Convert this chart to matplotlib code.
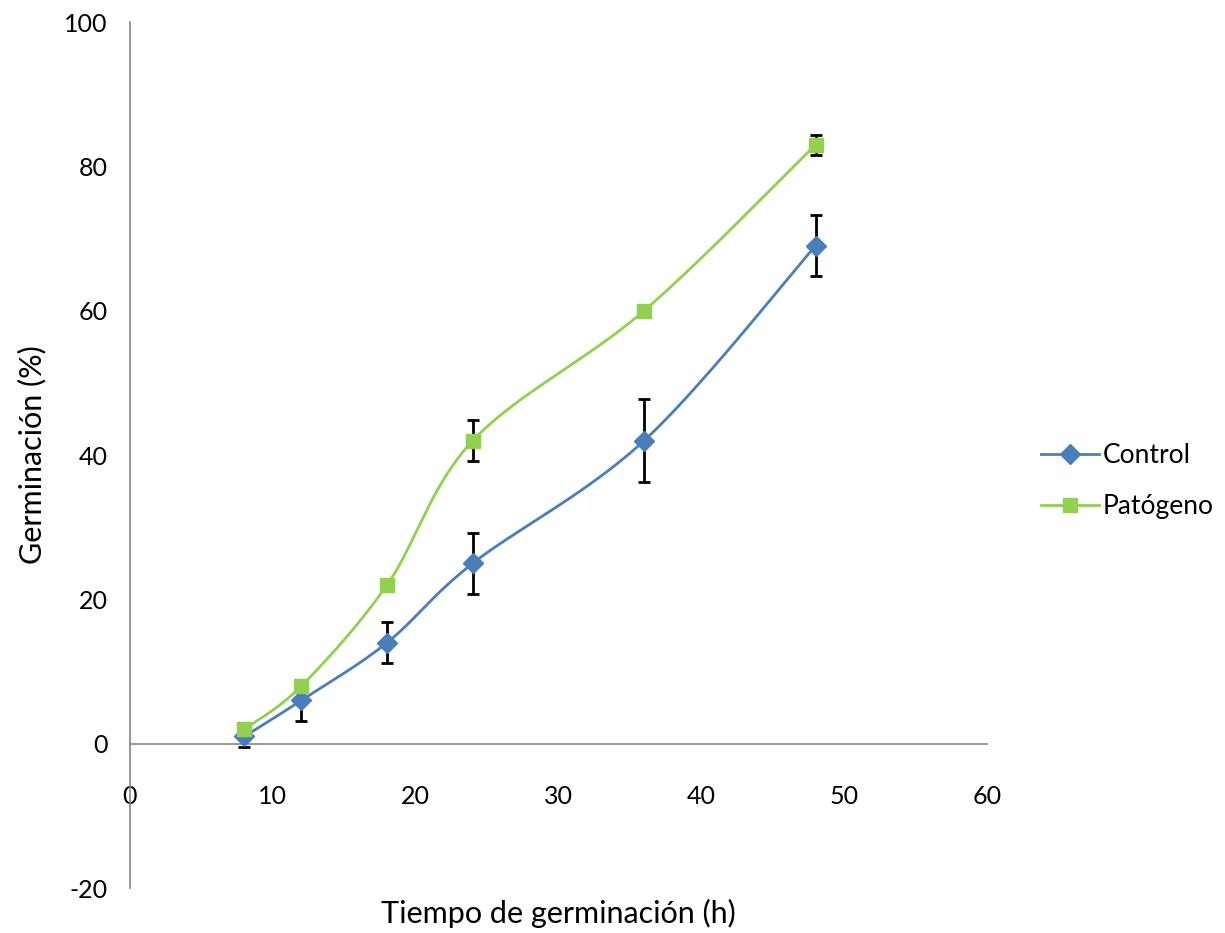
import numpy as np
import matplotlib
matplotlib.use("Agg")
import matplotlib.pyplot as plt

plt.rcParams['font.family'] = ['Lato', 'DejaVu Sans']
plt.rcParams['axes.unicode_minus'] = False

horas = [8, 12, 18, 24, 36, 48]
control = [1, 6, 14, 25, 42, 69]
control_err = [1.5, 2.8, 2.8, 4.2, 5.7, 4.2]
patogeno = [2, 8, 22, 42, 60, 83]
patogeno_err = [0.4, 0.4, 0.4, 2.8, 0.4, 1.4]


def suavizar(x, y, n=40):
    # curva tipo Excel (Bezier / Catmull-Rom) entre los puntos
    p = np.column_stack([x, y]).astype(float)
    p = np.vstack([p[0], p, p[-1]])
    out = []
    t = np.linspace(0, 1, n)[:, None]
    for i in range(1, len(p) - 2):
        p0, p1, p2, p3 = p[i - 1], p[i], p[i + 1], p[i + 2]
        c1 = p1 + (p2 - p0) / 6
        c2 = p2 - (p3 - p1) / 6
        seg = ((1 - t) ** 3) * p1 + 3 * ((1 - t) ** 2) * t * c1 + 3 * (1 - t) * t ** 2 * c2 + t ** 3 * p2
        out.append(seg)
    out = np.vstack(out)
    return out[:, 0], out[:, 1]


fig = plt.figure(figsize=(12.25, 9.33), dpi=100)
ax = fig.add_axes([0.1061, 0.0482, 0.6996, 0.9282])

azul = '#4a7ebb'
verde = '#92d050'

sx, sy = suavizar(horas, control)
ax.plot(sx, sy, color=azul, lw=2, zorder=2)
sx, sy = suavizar(horas, patogeno)
ax.plot(sx, sy, color=verde, lw=2, zorder=2)

ax.errorbar(horas, control, yerr=control_err, fmt='none', ecolor='black',
            elinewidth=2, capsize=4.5, capthick=2, zorder=3)
ax.errorbar(horas, patogeno, yerr=patogeno_err, fmt='none', ecolor='black',
            elinewidth=2, capsize=4.5, capthick=2, zorder=3)

ax.plot(horas, control, 'D', color=azul, ms=10, zorder=4)
ax.plot(horas, patogeno, 's', color=verde, ms=10.5, zorder=4)

# leyenda
ax.plot([], [], color=azul, lw=2, marker='D', ms=10, label='Control')
ax.plot([], [], color=verde, lw=2, marker='s', ms=10.5, label='Patógeno')
ax.legend(loc='center left', bbox_to_anchor=(1.035, 0.47), frameon=False,
          fontsize=19, handlelength=2.2, handletextpad=0.15, labelspacing=1.0)

ax.set_xlim(0, 60)
ax.set_ylim(-20, 100)
ax.set_xticks(range(0, 61, 10))
ax.set_yticks(range(-20, 101, 20))
ax.spines['left'].set_position(('data', 0))
ax.spines['bottom'].set_position(('data', 0))
ax.spines['top'].set_visible(False)
ax.spines['right'].set_visible(False)
for s in ['left', 'bottom']:
    ax.spines[s].set_color('#868686')
    ax.spines[s].set_linewidth(1.2)
ax.tick_params(length=0, labelsize=18)
ax.tick_params(axis='x', pad=30)
ax.tick_params(axis='y', pad=16)

fig.text(558 / 1225, 1 - 913 / 933, 'Tiempo de germinación (h)', fontsize=22,
         ha='center', va='center')
fig.text(32 / 1225, 1 - 455 / 933, 'Germinación (%)', fontsize=22,
         ha='center', va='center', rotation=90)

fig.savefig('out.png', dpi=100)
